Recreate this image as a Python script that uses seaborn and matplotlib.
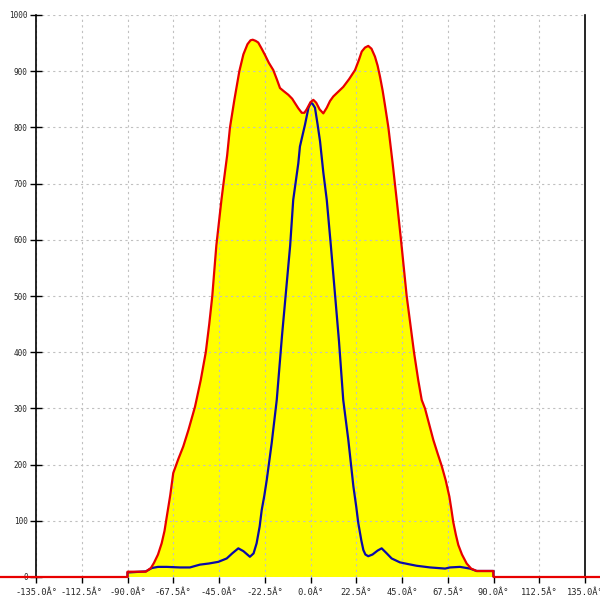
import numpy as np
import pandas as pd
import seaborn as sns
import matplotlib
matplotlib.use("Agg")
import matplotlib.pyplot as plt

# outer (red) profile, degrees vs value
outer_deg = [-180, -90, -90, -81, -78.5, -77, -75, -73.2, -71.8, -70.7, -69, -67.5, -65,
             -62.6, -60, -56.8, -54, -51.5, -49.8, -48.3, -47.2, -46.3, -43.8, -42.8, -41,
             -39.6, -37.4, -35, -33, -31, -29.5, -28.4, -27, -25.7, -24, -22.4, -20.5,
             -18.3, -16.5, -15, -13, -10.9, -9, -7.6, -6, -4.3, -3, -1.9, 0, 1.4, 2.8,
             4.5, 6.3, 8, 9.6, 11.2, 13.5, 16.1, 19, 21.9, 23.8, 25.2, 26.8, 28.4, 30,
             31.7, 33, 34.2, 35.5, 36.6, 38.3, 40.4, 42.4, 44.5, 47.3, 50.9, 53, 54.7,
             56.3, 58.5, 60.4, 62.5, 64.5, 66.5, 68.3, 69.3, 70.2, 71.5, 72.7, 74.5, 76.8,
             79, 81.7, 89.9, 90, 180]
outer_val = [0, 0, 9.4, 9.5, 16, 25, 40, 60, 82, 107, 145, 185, 210,
             232, 262, 303, 350, 400, 450, 500, 550, 590, 671, 700, 750,
             800, 850, 900, 930, 948, 955, 956, 954, 951, 940, 929, 915,
             902, 885, 870, 864, 858, 851, 843, 834, 826, 826, 832, 845, 849, 844,
             832, 825, 835, 847, 855, 863, 872, 886, 902, 920, 935, 942, 945, 940,
             926, 910, 890, 865, 840, 800, 736, 671, 600, 500, 400, 350, 315,
             300, 270, 244, 220, 198, 172, 143, 120, 98, 75, 57, 40, 24,
             15, 10.7, 10.7, 0, 0]

# inner (blue) profile
inner_deg = [-90, -90, -81, -78, -75, -70.7, -64.2, -59.3, -54.4, -50, -45.3, -41.2, -38.5,
             -35.5, -33, -29.8, -28, -26.5, -25, -24, -22.7, -21.5, -19.1, -16.6, -14, -12,
             -10, -8.5, -6, -5.2, -2.7, -1, 0.2, 1, 2.2, 3.5, 4.7, 6.3, 8, 10, 12, 14,
             16.1, 18.6, 21.1, 22.5, 23.5, 25, 26, 27, 28.4, 30.5, 33, 35, 37.5, 39.9,
             44, 48, 52.2, 58.8, 66.2, 68.6, 73.5, 78.4, 81.7, 90, 90]
inner_val = [0, 8, 10, 16, 18, 18, 17, 17, 22, 24, 27, 33, 42,
             51, 46, 36, 42, 60, 90, 119, 145, 173, 238, 315, 430, 510,
             590, 671, 736, 766, 805, 835, 844, 842, 835, 805, 775, 720, 671, 590, 505, 420,
             315, 244, 161, 125, 96, 65, 48, 40, 37, 40, 47, 51, 42, 33,
             26, 23, 20, 17, 15, 17, 18, 15, 10.7, 10.7, 0]

x_ticks = [-135 + 22.5 * i for i in range(13)]
x_labels = [f"{v:.1f}Â°" for v in x_ticks]
y_ticks = list(range(0, 1001, 100))
y_labels = [str(v) for v in y_ticks]

outer = pd.DataFrame({"deg": outer_deg, "val": outer_val})
inner = pd.DataFrame({"deg": inner_deg, "val": inner_val})

sns.set_style("white")
plt.rcParams["font.family"] = ["DejaVu Sans Mono", "DejaVu Sans"]

fig = plt.figure(figsize=(6, 6), dpi=100)
ax = fig.add_axes([36 / 600, 23 / 600, 549 / 600, 562 / 600])

ax.fill_between(outer["deg"], outer["val"], 0, color="#ffff00", linewidth=0, zorder=1)
sns.lineplot(data=inner, x="deg", y="val", sort=False, estimator=None, ax=ax,
             color="#0a0aa8", linewidth=1.6, zorder=3)
sns.lineplot(data=outer, x="deg", y="val", sort=False, estimator=None, ax=ax,
             color="#e80000", linewidth=1.6, zorder=4, clip_on=False)

ax.set_xlim(-135, 135)
ax.set_ylim(0, 1000)
ax.set_xticks(x_ticks)
ax.set_xticklabels(x_labels, fontsize=6.3)
ax.set_yticks(y_ticks)
ax.set_yticklabels(y_labels, fontsize=5.5)
ax.set_xlabel("")
ax.set_ylabel("")

ax.set_axisbelow("line")
ax.grid(True, color="#c0c0c0", linestyle=(0, (2, 3)), linewidth=0.8)

for side in ["top", "bottom"]:
    ax.spines[side].set_visible(False)
for side in ["left", "right"]:
    ax.spines[side].set_color("black")
    ax.spines[side].set_linewidth(1.2)

ax.tick_params(axis="x", direction="out", length=4, width=1, color="black", pad=4,
               bottom=True)
ax.tick_params(axis="y", direction="inout", length=8, width=1, color="black", pad=2,
               left=True)

fig.savefig("out.png", dpi=100)
